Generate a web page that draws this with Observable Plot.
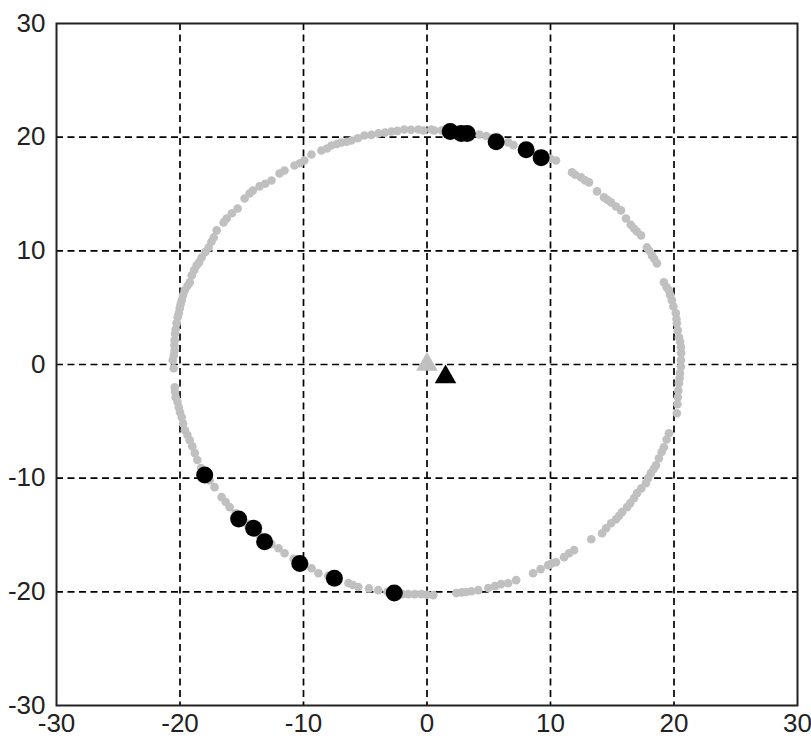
<!DOCTYPE html>
<html>
<head>
<meta charset="utf-8">
<script src="https://cdn.jsdelivr.net/npm/d3@7"></script>
<script src="https://cdn.jsdelivr.net/npm/@observablehq/plot@0.6"></script>
<style>
  html, body { margin: 0; padding: 0; background: #fff; }
  #chart svg { display: block; }
</style>
</head>
<body>
<div id="chart"></div>
<script>
// Axis ticks
const xTicks = [-30, -20, -10, 0, 10, 20, 30];
const yTicks = [-30, -20, -10, 0, 10, 20, 30];

// Gray ring of points
const ringX = [
  -1.84, -0.70, -0.30, 0.35, 0.59, 4.23, 6.57, 10.45, 11.74, 12.47, 13.12, 13.77, 14.33, 14.9, 15.71,
  16.11, 16.76, 17.33, 17.81, 18.21, 18.62, 19.18, 19.59, 19.83, 20.15, 20.23, 20.4, 20.56, 20.56,
  20.48, 20.4, 20.31, 20.23, 19.59, 19.18, 18.78, 18.54, 18.13, 17.73, 17.0, 16.76, 16.2, 15.79,
  15.31, 14.9, 14.18, 13.3, 11.91, 11.1, 10.45, 9.81, 8.59, 7.22, 6.57, 6.0, 4.96, 4.15, 3.18, 2.37,
  0.51, -0.46, -1.51, -3.94, -5.56, -6.36, -8.79, -9.35, -11.53, -12.02, -15.98, -16.63, -17.2,
  -18.8, -19.21, -19.6, -19.86, -20.1, -20.35, -20.43, -20.51, -20.59, -20.43, -20.43, -20.27,
  -20.19, -20.02, -19.86, -19.62, -19.21, -19.05, -18.65, -18.25, -17.68, -17.27, -17.03, -16.47,
  -16.22, -15.33, -14.77, -14.37, -13.56, -12.59, -11.94, -11.54, -10.73, -9.93, -9.36, -8.55,
  -7.74, -6.93, -6.12, -5.07, -3.94, -2.89,
  -20.4, -20.2, -20.0, -19.75, -19.4, -19.0, -18.6, -18.3,
  -20.5, -20.45, -20.4, -20.35, -20.1, -19.95, -19.75, -19.4, -18.85, -18.45, -17.95, -17.45,
  -15.8, -14.1, -13.1, -10.3, -8.1, -7.3, -6.5, -5.6, -4.5, -3.4, -2.4, -1.3, 1.2, 2.0, 4.8, 5.2,
  7.0, 9.5, 10.0,
  12.0, 12.8, 14.6, 15.3, 16.5, 17.0, 18.0, 18.4, 19.4, 19.7, 19.95, 20.2, 20.3, 20.5, 20.58,
  20.56, 20.45, 20.35, 20.28, 19.4, 19.0, 18.35, 17.9, 17.35, 16.45, 15.55, 14.5, 11.5, 10.1,
  9.2, 5.5, 3.6, 2.8, 0.0, -1.0, -2.0, -3.2, -4.7, -6.0, -8.0, -9.9, -10.8, -12.6, -13.6, -14.6,
  -15.5, -16.3, -17.6
];
const ringY = [
  20.67, 20.67, 20.59, 20.67, 20.59, 20.24, 19.54, 17.95, 16.9, 16.46, 16.02, 15.23, 14.7, 14.26, 13.56,
  12.85, 11.97, 11.36, 10.3, 9.6, 8.9, 7.23, 6.52, 5.64, 4.5, 3.62, 2.39, 1.51, 0.37,
  -0.77, -1.65, -2.88, -4.29, -6.05, -7.28, -8.25, -8.86, -9.56, -10.44, -11.32, -11.76, -12.55, -12.99,
  -13.61, -13.96, -14.84, -15.37, -16.33, -16.95, -17.39, -17.65, -18.36, -18.97, -19.24, -19.32, -19.67, -19.85, -20.02, -20.11,
  -20.29, -20.2, -20.2, -19.85, -19.58, -19.23, -18.36, -17.92, -16.6, -16.16, -12.55, -11.67, -10.79,
  -7.8, -6.66, -5.78, -4.64, -3.76, -2.88, -2.0, -0.33, 0.37, 1.25, 2.13, 3.62,
  4.15, 4.94, 5.64, 6.52, 7.23, 7.84, 8.72, 9.42, 10.3, 11.18, 11.8, 12.5,
  12.85, 13.73, 14.61, 15.05, 15.67, 16.19, 16.81, 17.07, 17.51, 17.95, 18.48, 18.83,
  19.27, 19.53, 19.71, 20.15, 20.33, 20.5,
  -2.4, -3.3, -4.2, -5.2, -6.2, -7.2, -8.4, -9.1,
  0.8, 1.7, 2.7, 3.1, 4.5, 5.3, 6.1, 6.9, 8.3, 9.0, 9.9, 10.8,
  13.3, 15.3, 15.9, 17.7, 19.0, 19.4, 19.6, 19.9, 20.2, 20.4, 20.55, 20.65, 20.6, 20.5, 20.1, 19.9,
  19.3, 18.2, 18.1,
  16.7, 16.2, 14.5, 13.9, 12.3, 11.7, 10.0, 9.3, 6.8, 6.1, 5.1, 4.0, 3.0, 2.0, 1.0,
  -0.2, -1.2, -2.3, -3.5, -6.6, -7.7, -9.2, -10.0, -10.9, -12.2, -13.3, -14.4, -16.6, -17.5,
  -18.0, -19.5, -19.95, -20.05, -20.25, -20.2, -20.2, -20.0, -19.7, -19.4, -18.6, -17.6, -17.1, -15.8, -15.0, -14.0,
  -13.1, -12.1, -10.2
];

// Black circles
const blackX = [1.88, 2.77, 3.26, 5.6, 8.03, 9.24, -18.0, -15.25, -14.04, -13.15, -10.3, -7.5, -2.65];
const blackY = [20.5, 20.33, 20.33, 19.6, 18.9, 18.2, -9.73, -13.6, -14.4, -15.6, -17.5, -18.8, -20.1];

// Triangles: gray (origin) and black
const triX = [0, 1.5];
const triY = [0, -1.1];
const triColor = ["#c0c0c0", "#000000"];

const ring = ringX.map((x, i) => ({x, y: ringY[i]}));
const blacks = blackX.map((x, i) => ({x, y: blackY[i]}));
const tris = triX.map((x, i) => ({x, y: triY[i], c: triColor[i]}));

const fmt = d => String(d);

const chart = Plot.plot({
  width: 811,
  height: 738,
  marginLeft: 56,
  marginRight: 14,
  marginTop: 23,
  marginBottom: 33,
  style: {fontFamily: "'Liberation Sans', Arial, sans-serif", fontSize: "26px", color: "#222", background: "#fff"},
  x: {domain: [-30, 30]},
  y: {domain: [-30, 30]},
  marks: [
    Plot.gridX([-20, -10, 0, 10, 20], {stroke: "#000", strokeOpacity: 1, strokeWidth: 1.7, strokeDasharray: "7,4.5"}),
    Plot.gridY([-20, -10, 0, 10, 20], {stroke: "#000", strokeOpacity: 1, strokeWidth: 1.7, strokeDasharray: "7,4.5"}),
    Plot.frame({stroke: "#222", strokeWidth: 2}),
    Plot.axisX(xTicks, {tickSize: 0, tickPadding: 8, tickFormat: fmt, fill: "#222", fontSize: 26, label: null}),
    Plot.axisY(yTicks, {tickSize: 0, tickPadding: 11, tickFormat: fmt, fill: "#222", fontSize: 26, label: null}),
    Plot.dot(ring, {x: "x", y: "y", r: 4.3, fill: "#c0c0c0", stroke: "none"}),
    Plot.dot(blacks, {x: "x", y: "y", r: 8.5, fill: "#000", stroke: "none"}),
    Plot.dot(tris, {x: "x", y: "y", r: 8, symbol: "triangle", fill: "c", stroke: "none"})
  ]
});
document.getElementById("chart").appendChild(chart);
</script>
</body>
</html>
